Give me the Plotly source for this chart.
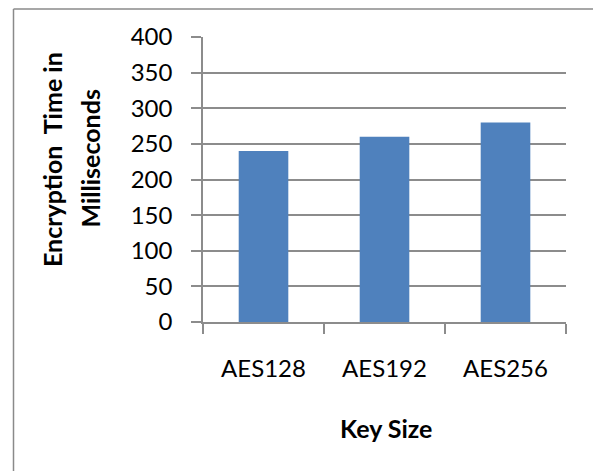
import plotly.graph_objects as go

# Encryption time per AES key size
key_sizes = ["AES128", "AES192", "AES256"]
times_ms = [240, 260, 280]
y_ticks = [0, 50, 100, 150, 200, 250, 300, 350, 400]

FONT = "Lato"
GRID = "#8c8c8c"

fig = go.Figure(
    go.Bar(
        x=key_sizes,
        y=times_ms,
        marker=dict(color="#4f81bd", line=dict(width=0)),
        width=0.41,
    )
)

L, R, T, B = 203, 27, 37, 149
W, H = 593, 471
pw, ph = W - L - R, H - T - B


def px_x(v):
    return (v - L) / pw


def px_y(v):
    return (H - B - v) / ph


border = dict(color="#8a8a8a", width=1.5)

fig.update_layout(
    width=W,
    height=H,
    margin=dict(l=L, r=R, t=T, b=B, pad=0),
    paper_bgcolor="white",
    plot_bgcolor="white",
    showlegend=False,
    font=dict(family=FONT, size=24, color="black"),
    xaxis=dict(
        showline=True,
        linecolor=GRID,
        linewidth=1.5,
        ticks="outside",
        tickson="boundaries",
        ticklen=10,
        tickwidth=1.5,
        tickcolor=GRID,
        ticklabelstandoff=24,
        showgrid=False,
        tickfont=dict(family=FONT, size=24),
    ),
    yaxis=dict(
        range=[0, 400],
        tickvals=y_ticks,
        showline=True,
        linecolor=GRID,
        linewidth=1.5,
        ticks="outside",
        ticklen=10,
        tickwidth=1.5,
        tickcolor=GRID,
        ticklabelstandoff=14,
        showgrid=True,
        gridcolor=GRID,
        gridwidth=1.5,
        zeroline=False,
        tickfont=dict(family=FONT, size=24),
    ),
    shapes=[
        # frame: left edge and top edge
        dict(type="line", xref="paper", yref="paper",
             x0=px_x(13.5), x1=px_x(13.5), y0=px_y(471), y1=px_y(9), line=border),
        dict(type="line", xref="paper", yref="paper",
             x0=px_x(13.5), x1=px_x(593), y0=px_y(9), y1=px_y(9), line=border),
    ],
    annotations=[
        dict(
            text="<b>Encryption  Time in</b>",
            xref="paper",
            yref="paper",
            x=px_x(52),
            y=px_y(160),
            textangle=-90,
            showarrow=False,
            xanchor="center",
            yanchor="middle",
            font=dict(family=FONT, size=25),
        ),
        dict(
            text="<b>Milliseconds</b>",
            xref="paper",
            yref="paper",
            x=px_x(89),
            y=px_y(158.5),
            textangle=-90,
            showarrow=False,
            xanchor="center",
            yanchor="middle",
            font=dict(family=FONT, size=25),
        ),
        dict(
            text="<b>Key Size</b>",
            xref="paper",
            yref="paper",
            x=px_x(386),
            y=px_y(428),
            showarrow=False,
            xanchor="center",
            yanchor="middle",
            font=dict(family=FONT, size=25),
        ),
    ],
)

fig.write_html("out.html")
